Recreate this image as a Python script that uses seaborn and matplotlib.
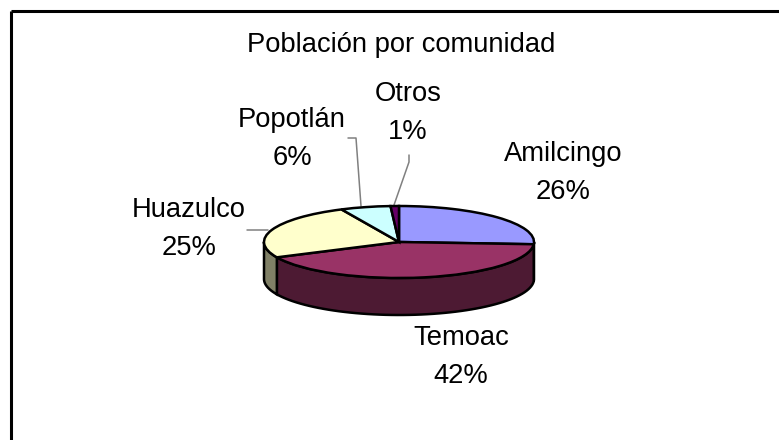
import numpy as np
import matplotlib
matplotlib.use("Agg")
import matplotlib.pyplot as plt
import seaborn as sns

categories = ["Amilcingo", "Temoac", "Huazulco", "Popotlán", "Otros"]
values = [26, 42, 25, 6, 1]
top_colors = ["#9999FF", "#993366", "#FFFFCC", "#CCFFFF", "#660066"]
side_colors = ["#5C5C99", "#4D1A33", "#808066", "#668080", "#330033"]
title = "Población por comunidad"

sns.set_theme(style="white")
plt.rcParams["font.family"] = ["Liberation Sans", "DejaVu Sans"]

W, H = 779, 440
fig = plt.figure(figsize=(W / 100, H / 100), dpi=100, facecolor="white")
bg = fig.add_axes([0, 0, 1, 1])
bg.set_xlim(0, W)
bg.set_ylim(H, 0)
bg.axis("off")
bg.plot([11, 11], [H, 11], color="black", lw=2.2, solid_capstyle="butt")
bg.plot([11, W], [11, 11], color="black", lw=2.2, solid_capstyle="butt")

cx, cy, rx, ry, depth = 399, 242, 135, 36, 37
ax = fig.add_axes([(cx - rx) / W, 1 - (cy + ry + depth) / H, 2 * rx / W, (2 * ry + depth) / H])
ax.patch.set_alpha(0)

fractions = np.array(values) / sum(values)
edges = 90 - 360 * np.concatenate([[0], np.cumsum(fractions)])
for i in range(len(values)):
    a0, a1 = edges[i], edges[i + 1]
    hi, lo = min(a0, 0), max(a1, -180)
    if hi > lo:
        t = np.radians(np.linspace(hi, lo, 60))
        x = np.cos(t)
        y = np.sin(t)
        ax.fill(np.r_[x, x[::-1]], np.r_[y, y[::-1] - depth / ry],
                facecolor=side_colors[i], edgecolor="black", lw=1.8, zorder=1,
                clip_on=False)

wedges, _ = ax.pie(values, colors=top_colors, startangle=90, counterclock=False, radius=1,
                   wedgeprops=dict(edgecolor="black", linewidth=1.8, clip_on=False),
                   normalize=True, frame=False)
ax.set_aspect("auto")
ax.set_xlim(-1, 1)
ax.set_ylim(-1 - depth / ry, 1)
ax.axis("off")

bg.text(401, 45, title, ha="center", va="center", fontsize=19.7, color="black")

label_pos = [(563, 173), (461, 357), (189, 229), (292, 139), (408, 113)]
for name, v, (x, y) in zip(categories, values, label_pos):
    bg.text(x, y, f"{name}\n{v}%", ha="center", va="center", fontsize=19.7,
            color="black", linespacing=1.6)

leaders = [[(247, 230), (268, 230)],
           [(348, 138), (356, 138), (361, 206)],
           [(409, 155), (409, 162), (394, 205)]]
for seg in leaders:
    xs, ys = zip(*seg)
    bg.plot(xs, ys, color="#808080", lw=1.1, zorder=5)

fig.savefig("out.png", dpi=100)
